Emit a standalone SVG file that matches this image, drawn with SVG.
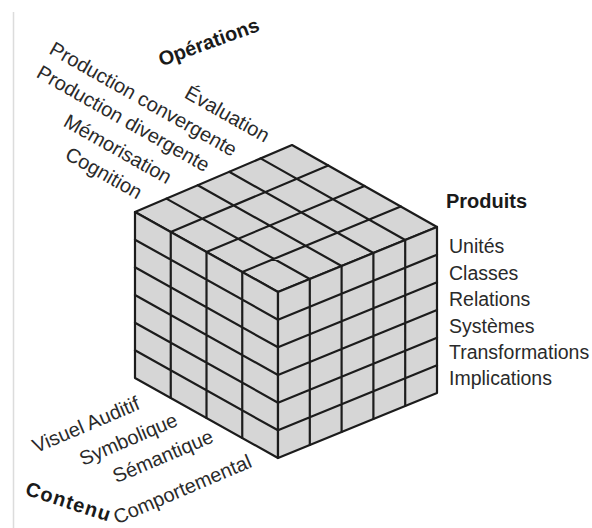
<svg xmlns="http://www.w3.org/2000/svg" width="592" height="528" viewBox="0 0 592 528">
<style>
.face{fill:#d6d6d6;stroke:#1c1c1c;stroke-width:2.2;stroke-linejoin:round}
.grid{stroke:#1c1c1c;stroke-width:2.2;fill:none;stroke-linecap:round}
text{font-family:"Liberation Sans",Arial,Helvetica,sans-serif;fill:#2a2a2a}
.lab{font-size:20px;text-anchor:middle}
.prod{font-size:19.5px}
.title{font-size:20px;font-weight:bold;fill:#1a1a1a}
</style>
<rect x="0" y="0" width="592" height="528" fill="#ffffff"/>
<line x1="13.5" y1="12" x2="13.5" y2="528" stroke="#dcdcdc" stroke-width="1.5"/>
<g id="cube">
  <g id="top-face">
    <path class="face" d="M292,145 L135,212 L278,292 L437,227 Z"/>
    <path class="grid" d="M260.6,158.4 L405.2,240 M229.2,171.8 L373.4,253 M197.8,185.2 L341.6,266 M166.4,198.6 L309.8,279 M328.25,165.5 L170.75,232 M364.5,186 L206.5,252 M400.75,206.5 L242.25,272"/>
  </g>
  <g id="left-face">
    <path class="face" d="M135,212 L278,292 L278,458 L135,378 Z"/>
    <path class="grid" d="M170.75,232 L170.75,398 M206.5,252 L206.5,418 M242.25,272 L242.25,438 M135,239.67 L278,319.67 M135,267.33 L278,347.33 M135,295 L278,375 M135,322.67 L278,402.67 M135,350.33 L278,430.33"/>
  </g>
  <g id="right-face">
    <path class="face" d="M278,292 L437,227 L437,393 L278,458 Z"/>
    <path class="grid" d="M309.8,279 L309.8,445 M341.6,266 L341.6,432 M373.4,253 L373.4,419 M405.2,240 L405.2,406 M278,319.67 L437,254.67 M278,347.33 L437,282.33 M278,375 L437,310 M278,402.67 L437,337.67 M278,430.33 L437,365.33"/>
  </g>
</g>
<g id="operations">
  <text class="title" text-anchor="middle" transform="translate(211,48.5) rotate(-20)">Opérations</text>
  <text class="lab" transform="translate(224,120) rotate(29.5)">Évaluation</text>
  <text class="lab" transform="translate(140,105) rotate(29.5)">Production convergente</text>
  <text class="lab" transform="translate(120,124.5) rotate(29.5)">Production divergente</text>
  <text class="lab" transform="translate(114.5,155) rotate(29.5)">Mémorisation</text>
  <text class="lab" transform="translate(100.5,179) rotate(29.5)">Cognition</text>
</g>
<g id="produits">
  <text class="title" x="446" y="208">Produits</text>
  <text class="prod" x="449" y="253">Unités</text>
  <text class="prod" x="449" y="280">Classes</text>
  <text class="prod" x="449" y="306">Relations</text>
  <text class="prod" x="449" y="332.5">Systèmes</text>
  <text class="prod" x="449" y="358.5">Transformations</text>
  <text class="prod" x="449" y="385">Implications</text>
</g>
<g id="contenu">
  <text class="lab" transform="translate(88.5,431) rotate(-23)">Visuel Auditif</text>
  <text class="lab" transform="translate(131,445.5) rotate(-23)">Symbolique</text>
  <text class="lab" transform="translate(165.5,462.5) rotate(-23)">Sémantique</text>
  <text class="lab" transform="translate(185,495.5) rotate(-23)">Comportemental</text>
  <text class="title" text-anchor="middle" textLength="88" lengthAdjust="spacing" transform="translate(66,508) rotate(18)">Contenu</text>
</g>
</svg>
